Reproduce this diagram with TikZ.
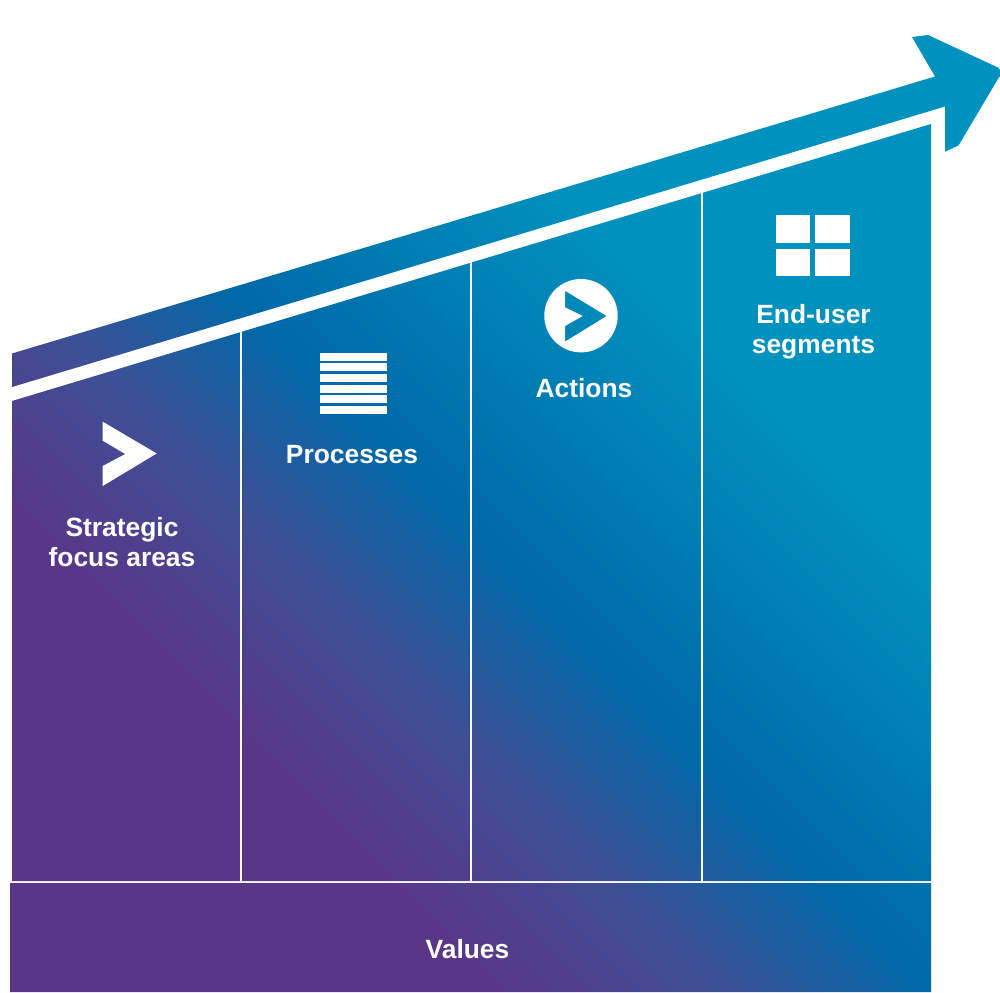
\documentclass[tikz,border=0pt]{standalone}
\usepackage{fontspec}
\setmainfont{Liberation Sans}
\definecolor{planpurple}{HTML}{5A3688}
\definecolor{planindigo}{HTML}{3D5096}
\definecolor{planblue}{HTML}{0069A8}
\definecolor{planteal}{HTML}{0092BE}
\pgfdeclarehorizontalshading{planshade}{100bp}{
  color(0bp)=(planpurple); color(38.86bp)=(planpurple); color(43.95bp)=(planindigo);
  color(48.59bp)=(planblue); color(58.3bp)=(planteal); color(100bp)=(planteal)}
\tikzset{
  planlabel/.style={text=white,font=\bfseries\fontsize{26.4}{30}\selectfont,align=center},
  planline/.style={draw=white,line width=2.2pt}
}
\begin{document}
\begin{tikzpicture}[x=1pt,y=-1pt]
    \useasboundingbox (0,0) rectangle (1000,992);
    %% arrow, panels and bottom bar share one gradient
    \begin{scope}
        \clip (12,353.5) -- (935,76.5) -- (912,37) -- (928,35) -- (998.3,67.7) -- (1000,70) -- (999.3,76.7)
            -- (958.5,145.5) -- (945,151.7) -- (945,106.5) -- (12,387) -- cycle
            (12,401) -- (931,124) -- (931,881) -- (12,881) -- cycle
            (10,883) rectangle (931,992);
        \shade[shading=planshade,shading angle=45] (-300,-304) rectangle (1300,1296);
    \end{scope}
    %% separators
    \draw[planline] (241,325) -- (241,881);
    \draw[planline] (471,255) -- (471,881);
    \draw[planline] (702,186) -- (702,881);
    %% chevron
    \fill[white] (102.7,421.7) -- (156.7,453.5) -- (102.7,486) -- (102.7,466)
        -- (125.3,454) -- (102.7,440.7) -- cycle;
    %% stacked lines
    \foreach \y in {352.7,363.4,374,384.7,395.4,406}
        \fill[white] (320,\y) rectangle (386.7,\y+8);
    %% circle with chevron cut out
    \fill[white,even odd rule] (581,315.7) circle (36.7)
        (565,290.7) -- (606.7,316) -- (565,341.7) -- (565,326) -- (582.7,316) -- (565,307.3) -- cycle;
    %% four squares
    \fill[white] (775.7,215) rectangle (810,243.3);
    \fill[white] (814.7,215) rectangle (849.7,243.3);
    \fill[white] (775.7,248.7) rectangle (810,276);
    \fill[white] (814.7,248.7) rectangle (849.7,276);
    %% labels
    \node[planlabel] (strategic) at (122,542.5) {Strategic\\focus areas};
    \node[planlabel] (processes) at (352,454.5) {Processes};
    \node[planlabel] (actions) at (584,388) {Actions};
    \node[planlabel] (enduser) at (813.5,331.5) {End-user\\segments};
    \node[planlabel] (values) at (467.5,949) {Values};
\end{tikzpicture}
\end{document}
